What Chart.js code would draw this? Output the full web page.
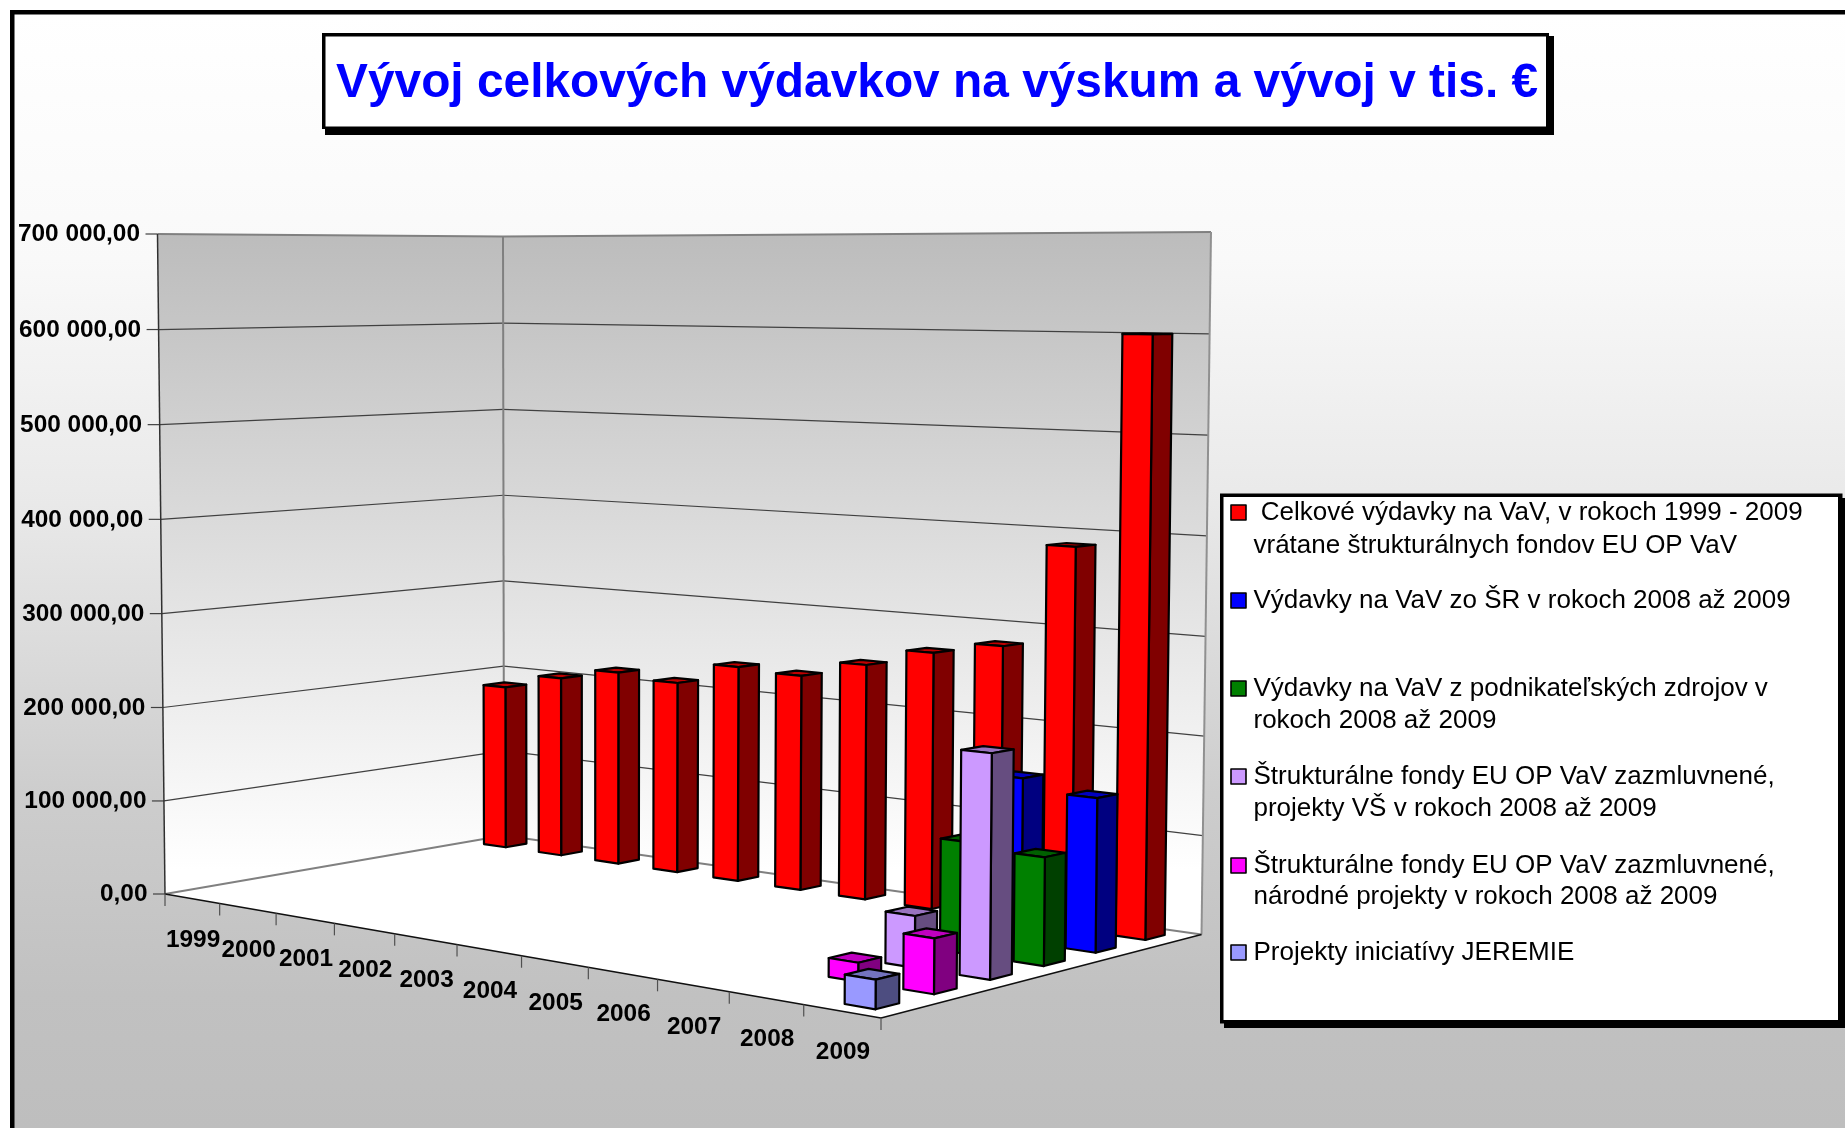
<!DOCTYPE html>
<html>
<head>
<meta charset="utf-8">
<style>html,body{margin:0;padding:0;background:#fff}canvas{display:block}</style>
<script src="https://cdn.jsdelivr.net/npm/chart.js@4/dist/chart.umd.js"></script>
</head>
<body>
<canvas id="c" width="1845" height="1128"></canvas>
<script>
const titleText = 'Vývoj celkových výdavkov na výskum a vývoj v tis. €';
const years = ['1999','2000','2001','2002','2003','2004','2005','2006','2007','2008','2009'];
const totalRnD    = [185000,202000,215000,210000,234000,231000,249000,268000,281000,387000,600000];
const stateRnD    = [null,null,null,null,null,null,null,null,null,163000,152000];
const businessRnD = [null,null,null,null,null,null,null,null,null,110000,105000];
const euUniv      = [null,null,null,null,null,null,null,null,null,50000,214000];
const euNational  = [null,null,null,null,null,null,null,null,null,18000,52000];
const jeremie     = [null,null,null,null,null,null,null,null,null,null,27000];
const yMax = 700000, yStep = 100000;
const legendLines = [
  [' Celkové výdavky na VaV, v rokoch 1999 - 2009','vrátane štrukturálnych fondov EU OP VaV'],
  ['Výdavky na VaV zo ŠR v rokoch 2008 až 2009'],
  ['Výdavky na VaV z podnikateľských zdrojov v','rokoch 2008 až 2009'],
  ['Štrukturálne fondy EU OP VaV zazmluvnené,','projekty VŠ v rokoch 2008 až 2009'],
  ['Štrukturálne fondy EU OP VaV zazmluvnené,','národné projekty v rokoch 2008 až 2009'],
  ['Projekty iniciatívy JEREMIE']
];
const seriesValues = [totalRnD,stateRnD,businessRnD,euUniv,euNational,jeremie];
const seriesColors = ['#FF0000','#0000FF','#008000','#CC99FF','#FF00FF','#9999FF'];

/* ---------- layout of the 3-D box (screen geometry, not data) ---------- */
const FLOOR = {L:[165,894],F:[881,1018],R:[1201.5,934.5],B:[504,835.5]};
const ROOF  = {L:[157.5,234],R:[1211,232],B:[503,236.5]};
const FONT = '"Liberation Sans", Arial, sans-serif';

function quadMatrix(p00,p10,p11,p01){
  const dx1=p10[0]-p11[0],dx2=p01[0]-p11[0],sx=p00[0]-p10[0]+p11[0]-p01[0];
  const dy1=p10[1]-p11[1],dy2=p01[1]-p11[1],sy=p00[1]-p10[1]+p11[1]-p01[1];
  const den=dx1*dy2-dx2*dy1;
  const g=(sx*dy2-dx2*sy)/den,h=(dx1*sy-sx*dy1)/den;
  return [p10[0]-p00[0]+g*p10[0],p01[0]-p00[0]+h*p01[0],p00[0],
          p10[1]-p00[1]+g*p10[1],p01[1]-p00[1]+h*p01[1],p00[1],g,h];
}
const floorM=quadMatrix(FLOOR.L,FLOOR.F,FLOOR.R,FLOOR.B);
function homog(u,v){const m=floorM;return [m[0]*u+m[1]*v+m[2],m[3]*u+m[4]*v+m[5],m[6]*u+m[7]*v+1];}
/* vertical direction of the camera: least-squares fit to the three visible roof corners */
function solveVertical(){
  const eqs=[];
  [[0,0,ROOF.L],[0,1,ROOF.B],[1,1,ROOF.R]].forEach(([u,v,t])=>{
    const h=homog(u,v);
    eqs.push([1,0,-t[0],t[0]*h[2]-h[0]]);
    eqs.push([0,1,-t[1],t[1]*h[2]-h[1]]);
  });
  const A=[[0,0,0,0],[0,0,0,0],[0,0,0,0]];
  eqs.forEach(e=>{for(let i=0;i<3;i++){for(let j=0;j<3;j++)A[i][j]+=e[i]*e[j];A[i][3]+=e[i]*e[3];}});
  for(let i=0;i<3;i++){
    let p=i;for(let r=i+1;r<3;r++)if(Math.abs(A[r][i])>Math.abs(A[p][i]))p=r;
    [A[i],A[p]]=[A[p],A[i]];
    for(let r=0;r<3;r++)if(r!==i){const f=A[r][i]/A[i][i];for(let c=i;c<4;c++)A[r][c]-=f*A[i][c];}
  }
  return [A[0][3]/A[0][0],A[1][3]/A[1][1],A[2][3]/A[2][2]];
}
const vert=solveVertical();
function rawProject(u,v,t){
  const h=homog(u,v),w=h[2]+t*vert[2];
  return [(h[0]+t*vert[0])/w,(h[1]+t*vert[1])/w];
}
/* small residual so that the roof corners land exactly where they should */
function residual(u,v,target){const p=rawProject(u,v,1);return [target[0]-p[0],target[1]-p[1]];}
const resL=residual(0,0,ROOF.L),resB=residual(0,1,ROOF.B),resR=residual(1,1,ROOF.R);
function project(u,v,t){
  const p=rawProject(u,v,t);
  return [p[0]+t*(resL[0]+u*(resR[0]-resB[0])+v*(resB[0]-resL[0])),
          p[1]+t*(resL[1]+u*(resR[1]-resB[1])+v*(resB[1]-resL[1]))];
}
function poly(ctx,pts,fill,stroke,lw){
  ctx.beginPath();pts.forEach((p,i)=>i?ctx.lineTo(p[0],p[1]):ctx.moveTo(p[0],p[1]));ctx.closePath();
  if(fill){ctx.fillStyle=fill;ctx.fill();}
  if(stroke){ctx.strokeStyle=stroke;ctx.lineWidth=lw;ctx.lineJoin='round';ctx.stroke();}
}
function seg(ctx,a,b,color,lw){ctx.beginPath();ctx.moveTo(a[0],a[1]);ctx.lineTo(b[0],b[1]);ctx.strokeStyle=color;ctx.lineWidth=lw;ctx.stroke();}
function shade(hex,f){const n=parseInt(hex.slice(1),16);
  return 'rgb('+Math.round((n>>16&255)*f)+','+Math.round((n>>8&255)*f)+','+Math.round((n&255)*f)+')';}
function heightFrac(y,val){return (y.bottom-y.getPixelForValue(val))/(y.bottom-y.top);}

/* ---------- controller: bars projected through the library's own scales ---------- */
class Bar3DController extends Chart.BarController{
  draw(){
    const meta=this.getMeta(),ctx=this.chart.ctx,ds=this.getDataset();
    const x=this.chart.scales.x,y=this.chart.scales.y;
    const rows=this.chart.data.datasets.length;
    const cellU=1/x.getLabels().length,cellV=1/rows,fill=0.4;
    const vc=1-(this.index+0.5)*cellV;           /* first series stands at the back */
    const v0=vc-cellV*fill/2,v1=vc+cellV*fill/2;
    meta.data.forEach((el,i)=>{
      const val=this.getParsed(i).y;
      if(val===null||val===undefined||isNaN(val))return;
      const uc=(x.getPixelForValue(i)-x.left)/x.width;
      const u0=uc-cellU*fill/2,u1=uc+cellU*fill/2,t=heightFrac(y,val);
      const c=ds.backgroundColor;
      poly(ctx,[project(u0,v0,t),project(u1,v0,t),project(u1,v1,t),project(u0,v1,t)],shade(c,0.75),'#000',2.2);
      poly(ctx,[project(u1,v0,0),project(u1,v1,0),project(u1,v1,t),project(u1,v0,t)],shade(c,0.5),'#000',2.2);
      poly(ctx,[project(u0,v0,0),project(u1,v0,0),project(u1,v0,t),project(u0,v0,t)],c,'#000',2.2);
    });
  }
}
Bar3DController.id='bar3d';
Bar3DController.defaults=Chart.BarController.defaults;
Bar3DController.overrides=Chart.BarController.overrides;
Chart.register(Bar3DController);

/* ---------- scenery: page, title box, walls, floor, axes, legend ---------- */
const scenery={
  id:'scenery',
  beforeDatasetsDraw(chart){
    const ctx=chart.ctx,x=chart.scales.x,y=chart.scales.y;
    ctx.save();
    /* page background */
    const bg=ctx.createLinearGradient(0,14,0,1128);
    bg.addColorStop(0,'#ffffff');bg.addColorStop(0.22,'#f9f9f9');bg.addColorStop(0.44,'#e9e9e9');
    bg.addColorStop(0.7,'#cdcdcd');bg.addColorStop(0.88,'#c1c1c1');bg.addColorStop(1,'#bebebe');
    ctx.fillStyle='#fff';ctx.fillRect(0,0,1845,1128);
    ctx.fillStyle=bg;ctx.fillRect(12,12,1833,1116);
    ctx.fillStyle='#000';ctx.fillRect(10,10,1835,4.5);ctx.fillRect(10,10,4.5,1118);
    /* title box */
    ctx.fillStyle='#000';ctx.fillRect(325,36,1229,99);
    ctx.fillStyle='#000';ctx.fillRect(322,33,1227,96);
    ctx.fillStyle='#fff';ctx.fillRect(325.5,36.5,1220.5,90);
    ctx.fillStyle='#0000FF';ctx.font='bold 47.85px '+FONT;ctx.textAlign='left';ctx.textBaseline='alphabetic';
    ctx.fillText(titleText,336,97);
    /* walls */
    const wall=ctx.createLinearGradient(0,232,0,870);
    wall.addColorStop(0,'#bcbcbc');wall.addColorStop(1,'#ffffff');
    poly(ctx,[project(0,0,0),project(0,1,0),project(0,1,1),project(0,0,1)],wall);
    poly(ctx,[project(0,1,0),project(1,1,0),project(1,1,1),project(0,1,1)],wall);
    poly(ctx,[project(0,0,0),project(1,0,0),project(1,1,0),project(0,1,0)],'#ffffff');
    /* grid lines and value ticks from the y scale */
    y.ticks.forEach(tk=>{
      const t=heightFrac(y,tk.value),a=project(0,0,t),b=project(0,1,t),c=project(1,1,t);
      if(tk.value>0){
        const col=tk.value===yMax?'#808080':'#404040',lw=tk.value===yMax?2:1.2;
        seg(ctx,a,b,col,lw);seg(ctx,b,c,col,lw);
      }
      seg(ctx,[a[0]-12,a[1]],a,'#404040',1.2);
      ctx.fillStyle='#000';ctx.font='bold 24.4px '+FONT;ctx.textAlign='right';ctx.textBaseline='middle';
      ctx.fillText(tk.label,a[0]-17.5,a[1]+0.5);
    });
    /* wall edges and floor edges */
    seg(ctx,project(0,1,0),project(0,1,1),'#808080',2);
    seg(ctx,project(1,1,0),project(1,1,1),'#909090',2);
    seg(ctx,project(0,0,0),project(0,0,1),'#303030',1.5);
    seg(ctx,project(0,0,0),project(0,1,0),'#808080',2);
    seg(ctx,project(0,1,0),project(1,1,0),'#808080',2);
    seg(ctx,project(0,0,0),project(1,0,0),'#101010',1.5);
    seg(ctx,project(1,0,0),project(1,1,0),'#101010',1.5);
    /* category ticks and labels from the x scale */
    const labels=x.getLabels(),n=labels.length;
    for(let i=0;i<=n;i++){
      const p=project(i/n,0,0);seg(ctx,p,[p[0],p[1]+12],'#505050',1.2);
    }
    labels.forEach((lab,i)=>{
      const u=(x.getPixelForValue(i)-x.left)/x.width,p=project(u,0,0);
      ctx.fillStyle='#000';ctx.font='bold 24.4px '+FONT;ctx.textAlign='center';ctx.textBaseline='middle';
      ctx.fillText(lab,p[0]+1,p[1]+41.5);
    });
    /* legend box */
    ctx.fillStyle='#000';ctx.fillRect(1224,498,621,530);
    ctx.fillRect(1220,493.5,622.5,530);
    ctx.fillStyle='#fff';ctx.fillRect(1223.5,497,614.5,523);
    const baselines=[[520,553],[608],[696,728],[784,816],[873,904],[960]];
    ctx.textAlign='left';ctx.textBaseline='alphabetic';ctx.font='26px '+FONT;
    chart.data.datasets.forEach((ds,k)=>{
      const lines=legendLines[k];
      poly(ctx,[[1231,baselines[k][0]-15],[1246,baselines[k][0]-15],[1246,baselines[k][0]],[1231,baselines[k][0]]],ds.backgroundColor,'#000',1.6);
      ctx.fillStyle='#000';
      lines.forEach((ln,j)=>ctx.fillText(ln,1253.5,baselines[k][j]));
    });
    ctx.restore();
  }
};

new Chart(document.getElementById('c').getContext('2d'),{
  type:'bar3d',
  data:{
    labels:years,
    datasets:seriesValues.map((vals,k)=>({
      label:legendLines[k].join(' ').trim(),
      data:vals,
      backgroundColor:seriesColors[k],
      order:seriesValues.length-1-k,
      clip:false
    }))
  },
  plugins:[scenery],
  options:{
    responsive:false,animation:false,
    layout:{padding:{left:165,right:1845-881,top:234,bottom:1128-894}},
    plugins:{legend:{display:false},title:{display:false},tooltip:{enabled:false}},
    scales:{
      x:{type:'category',display:false,offset:true,grid:{display:false}},
      y:{type:'linear',display:false,min:0,max:yMax,
         ticks:{stepSize:yStep,callback:v=>{
           const s=String(Math.round(v)).replace(/\B(?=(\d{3})+$)/g,' ');return s+',00';}}}
    }
  }
});
</script>
</body>
</html>
